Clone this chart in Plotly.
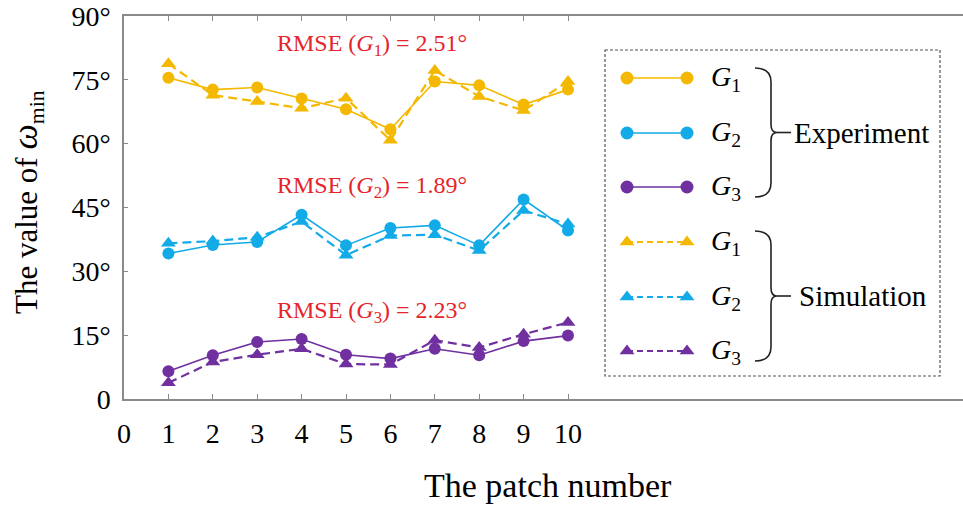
import plotly.graph_objects as go

patch = [1, 2, 3, 4, 5, 6, 7, 8, 9, 10]
g1_exp = [75.5, 72.7, 73.2, 70.6, 68.1, 63.4, 74.6, 73.7, 69.2, 72.7]
g1_sim = [78.8, 71.4, 69.9, 68.3, 70.7, 60.8, 77.2, 71.1, 67.8, 74.6]
g2_exp = [34.2, 36.2, 36.9, 43.3, 36.1, 40.2, 40.8, 36.1, 46.9, 39.6]
g2_sim = [36.6, 37.1, 38.0, 41.7, 33.8, 38.4, 38.6, 34.9, 44.3, 41.1]
g3_exp = [6.5, 10.3, 13.4, 14.1, 10.4, 9.5, 11.8, 10.3, 13.6, 14.9]
g3_sim = [3.8, 8.7, 10.4, 11.8, 8.2, 8.1, 13.8, 12.1, 15.2, 18.0]
rmse = {"1": "2.51", "2": "1.89", "3": "2.23"}
y_ticks = [0, 15, 30, 45, 60, 75, 90]
y_ticktext = ["0", "15°", "30°", "45°", "60°", "75°", "90°"]
x_ticks = list(range(0, 11))

YEL = "#F5B800"
BLU = "#12ABE8"
PUR = "#7030A0"
RED = "#E5242B"
FONT = "Liberation Serif"

W, H = 963, 506
L, R, T, B = 124, 0, 16, 107
PW, PH = W - L - R, H - T - B


def px(x):
    return (x - L) / PW


def py(y):
    return (H - B - y) / PH


fig = go.Figure()

series = [
    (g1_exp, YEL, "solid", "circle", 1.6),
    (g2_exp, BLU, "solid", "circle", 1.6),
    (g3_exp, PUR, "solid", "circle", 1.6),
    (g1_sim, YEL, "9px,5px", "triangle-up", 2.2),
    (g2_sim, BLU, "9px,5px", "triangle-up", 2.2),
    (g3_sim, PUR, "9px,5px", "triangle-up", 2.2),
]
for vals, col, dash, sym, lw in series:
    fig.add_trace(go.Scatter(
        x=patch, y=vals, mode="lines+markers",
        line=dict(color=col, width=lw, dash=dash),
        marker=dict(symbol=sym, size=12 if sym == "circle" else 13, color=col),
        showlegend=False, cliponaxis=False))

# legend samples (drawn on overlay axes mapped to the plot area fraction)
rows = [78, 133, 187, 242, 297, 351]
labels = ["1", "2", "3", "1", "2", "3"]
for (vals, col, dash, sym, lw), ry, lab in zip(series, rows, labels):
    fig.add_trace(go.Scatter(
        x=[px(627), px(687)], y=[py(ry), py(ry)], mode="lines+markers",
        line=dict(color=col, width=lw, dash=("6px,4px" if dash != "solid" else "solid")),
        marker=dict(symbol=sym, size=13, color=col),
        xaxis="x2", yaxis="y2", showlegend=False, cliponaxis=False))
    fig.add_annotation(x=px(709), y=py(ry), xref="paper", yref="paper",
                       xanchor="left", yanchor="middle", showarrow=False,
                       text=f"<i>G</i><sub>{lab}</sub>",
                       font=dict(family=FONT, size=28, color="black"))


def brace(top, bot, x0=755, x1=771, tip=6):
    mid = (top + bot) / 2
    pts = (f"M {px(x0)},{py(top)} "
           f"Q {px(x1)},{py(top)} {px(x1)},{py(top + 14)} "
           f"L {px(x1)},{py(mid - 8)} "
           f"Q {px(x1)},{py(mid)} {px(x1 + tip)},{py(mid)} "
           f"Q {px(x1)},{py(mid)} {px(x1)},{py(mid + 8)} "
           f"L {px(x1)},{py(bot - 14)} "
           f"Q {px(x1)},{py(bot)} {px(x0)},{py(bot)}")
    fig.add_shape(type="path", path=pts, xref="paper", yref="paper",
                  line=dict(color="#222", width=1.6))
    fig.add_shape(type="line", x0=px(x1 + tip), x1=px(x1 + tip + 14),
                  y0=py(mid), y1=py(mid), xref="paper", yref="paper",
                  line=dict(color="#222", width=1.6))
    return mid


m1 = brace(68, 197)
m2 = brace(231, 361)
fig.add_annotation(x=px(792), y=py(m1), xref="paper", yref="paper",
                   xanchor="left", yanchor="middle", showarrow=False,
                   text="Experiment", font=dict(family=FONT, size=29, color="black"))
fig.add_annotation(x=px(797), y=py(m2), xref="paper", yref="paper",
                   xanchor="left", yanchor="middle", showarrow=False,
                   text="Simulation", font=dict(family=FONT, size=29, color="black"))

# legend dashed frame
fig.add_shape(type="rect", x0=px(605), x1=px(940), y0=py(50), y1=py(376),
              xref="paper", yref="paper",
              line=dict(color="#555", width=1.2, dash="3px,2px"))

# RMSE labels
for g, ypix in [("1", 45), ("2", 187), ("3", 312)]:
    fig.add_annotation(x=px(372), y=py(ypix), xref="paper", yref="paper",
                       xanchor="center", yanchor="middle", showarrow=False,
                       text=f"RMSE (<i>G</i><sub>{g}</sub>) = {rmse[g]}°",
                       font=dict(family=FONT, size=24, color=RED))

# axis titles
fig.add_annotation(x=px(548), y=py(485), xref="paper", yref="paper",
                   xanchor="center", yanchor="middle", showarrow=False,
                   text="The patch number",
                   font=dict(family=FONT, size=34, color="black"))
fig.add_annotation(x=px(27), y=py(202), xref="paper", yref="paper",
                   xanchor="center", yanchor="middle", showarrow=False,
                   textangle=-90,
                   text="The value of <span style='font-size:36px'><i>ω</i></span><sub>min</sub>",
                   font=dict(family=FONT, size=31, color="black"))

AX = "#8a8a8a"
fig.update_layout(
    width=W, height=H,
    margin=dict(l=L, r=R, t=T, b=B, autoexpand=False),
    plot_bgcolor="white", paper_bgcolor="white",
    font=dict(family=FONT, size=28, color="black"),
    xaxis=dict(range=[0, PW / 44.4], tickvals=x_ticks, ticks="inside",
               ticklen=5, tickcolor=AX, showline=True, linecolor=AX,
               linewidth=1.5, mirror="ticks", showgrid=False, zeroline=False,
               ticklabelstandoff=9, ticklabeloverflow="allow",
               tickfont=dict(family=FONT, size=28)),
    yaxis=dict(range=[0, 90], tickvals=y_ticks, ticktext=y_ticktext,
               ticks="inside", ticklen=4, tickcolor=AX, showline=True,
               linecolor=AX, linewidth=1.5, mirror=False, showgrid=False,
               zeroline=False, ticklabelstandoff=6, ticklabeloverflow="allow",
               tickfont=dict(family=FONT, size=28)),
    xaxis2=dict(overlaying="x", range=[0, 1], visible=False),
    yaxis2=dict(overlaying="y", range=[0, 1], visible=False),
)

fig.write_html("out.html")
